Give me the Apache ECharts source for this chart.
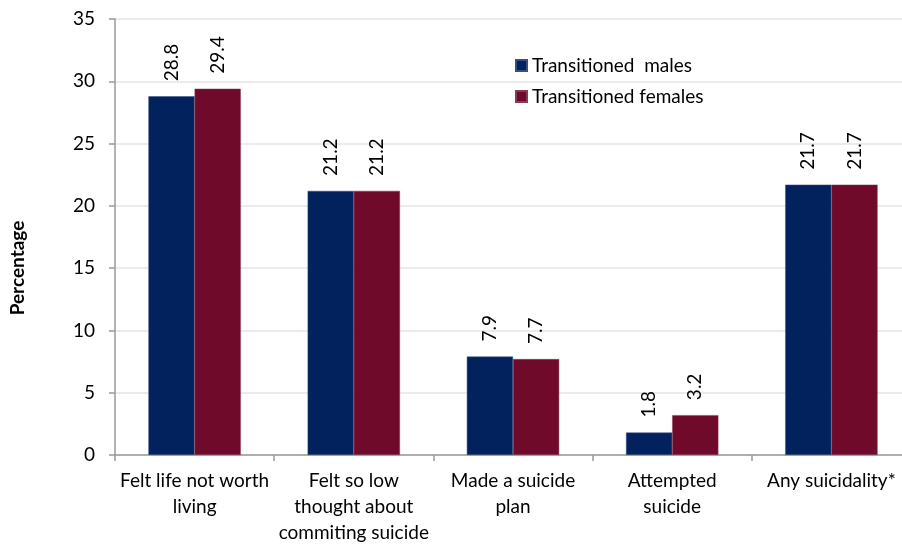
<!DOCTYPE html>
<html>
<head>
<meta charset="utf-8">
<script src="https://cdn.jsdelivr.net/npm/echarts@6/dist/echarts.min.js"></script>
<style>html,body{margin:0;padding:0;background:#fff}#c{width:902px;height:546px}</style>
</head>
<body>
<div id="c"></div>
<script>
var categories = ['Felt life not worth\nliving', 'Felt so low\nthought about\ncommiting suicide', 'Made a suicide\nplan', 'Attempted\nsuicide', 'Any suicidality*'];
var seriesNames = ['Transitioned  males', 'Transitioned females'];
var malesValues = [28.8, 21.2, 7.9, 1.8, 21.7];
var femalesValues = [29.4, 21.2, 7.7, 3.2, 21.7];
var yTicks = [0, 5, 10, 15, 20, 25, 30, 35];

var FONT = 'Lato, "Open Sans", sans-serif';
var chart = echarts.init(document.getElementById('c'), null, {renderer: 'canvas'});
var labelCfg = {
  show: true, position: 'top', distance: 15, rotate: 90,
  align: 'left', verticalAlign: 'middle',
  fontFamily: FONT, fontSize: 19, color: '#000',
  formatter: function (p) { return p.value.toFixed(1); }
};
chart.setOption({
  animation: false,
  backgroundColor: '#fff',
  grid: {left: 115, width: 796, top: 19, bottom: 91, containLabel: false, outerBoundsMode: 'none'},
  legend: {
    orient: 'vertical', left: 510, top: 51, itemWidth: 11, itemHeight: 11, itemGap: 12,
    icon: 'rect', data: seriesNames,
    textStyle: {fontFamily: FONT, fontSize: 19, color: '#000'}
  },
  graphic: [{
    type: 'text', x: 18, y: 268, rotation: Math.PI / 2,
    style: {text: 'Percentage', fontFamily: FONT, fontWeight: 'bold', fontSize: 19,
      fill: '#000', textAlign: 'center', textVerticalAlign: 'middle'}
  }],
  xAxis: {
    type: 'category', data: categories,
    axisLine: {lineStyle: {color: '#9a9a9a', width: 1.5}},
    axisTick: {show: true, length: 6, lineStyle: {color: '#9a9a9a', width: 1.5}},
    axisLabel: {interval: 0, margin: 13, fontFamily: FONT, fontSize: 19, lineHeight: 26, color: '#000'}
  },
  yAxis: {
    type: 'value', min: yTicks[0], max: yTicks[yTicks.length - 1], interval: 5,
    axisLine: {show: true, lineStyle: {color: '#9a9a9a', width: 1.5}},
    axisTick: {show: true, length: 6, lineStyle: {color: '#9a9a9a', width: 1.5}},
    axisLabel: {margin: 20, fontFamily: FONT, fontSize: 19, color: '#000'},
    splitLine: {lineStyle: {color: '#e4e4e4', width: 1.5}}
  },
  series: [
    {name: seriesNames[0], type: 'bar', data: malesValues, barGap: '0%', barCategoryGap: '42%',
      itemStyle: {color: '#02225e', borderColor: '#3a4f80', borderWidth: 0.5}, label: labelCfg},
    {name: seriesNames[1], type: 'bar', data: femalesValues, barGap: '0%', barCategoryGap: '42%',
      itemStyle: {color: '#6f0a2a', borderColor: '#8a3a55', borderWidth: 0.5}, label: labelCfg}
  ]
});
</script>
</body>
</html>
